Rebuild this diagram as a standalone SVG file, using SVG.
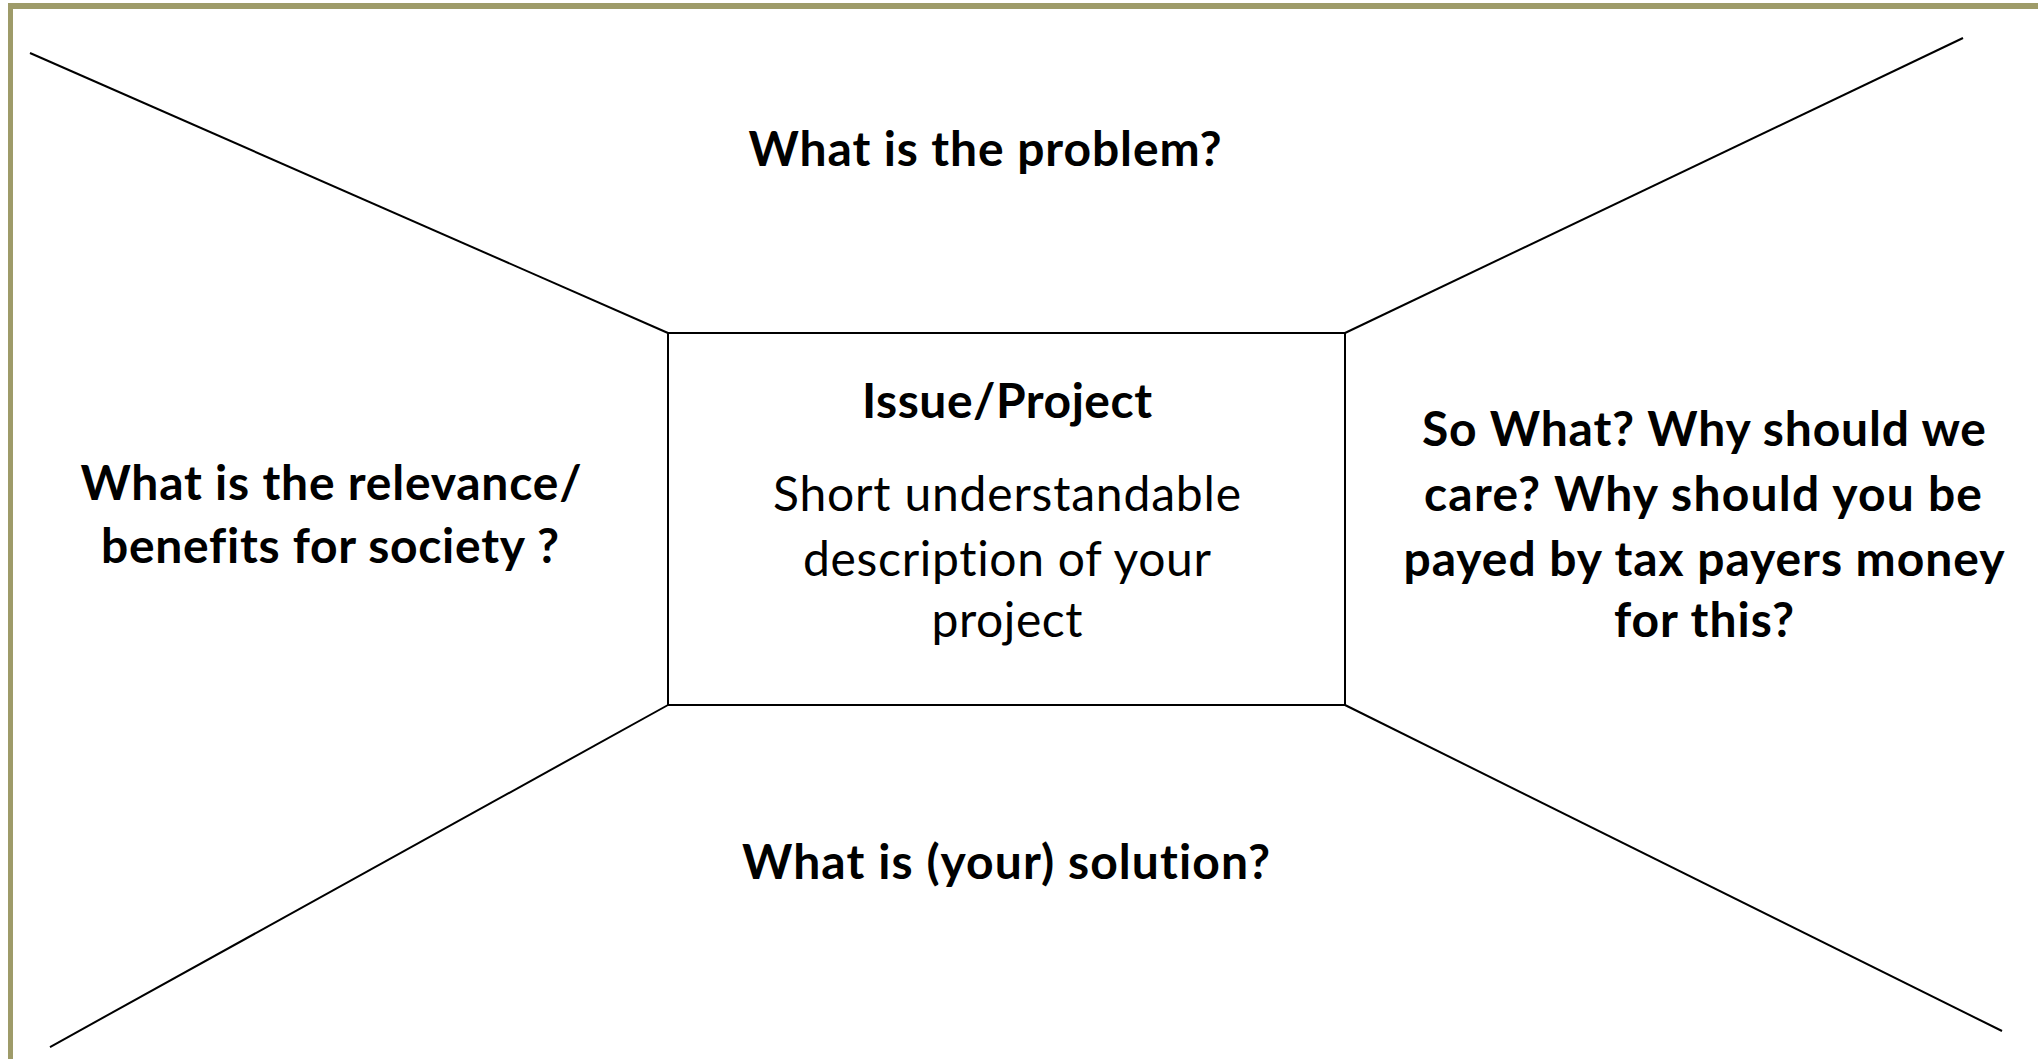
<svg xmlns="http://www.w3.org/2000/svg" width="2038" height="1059" viewBox="0 0 2038 1059">
<style>
.q{font-family:Lato,"Open Sans","Liberation Sans",sans-serif;font-weight:bold;font-size:48px;fill:#000;text-anchor:middle;font-variant-ligatures:none}
.d{font-family:Lato,"Open Sans","Liberation Sans",sans-serif;font-size:48px;fill:#000;text-anchor:middle;font-variant-ligatures:none}
.ln{stroke:#000;stroke-width:2;fill:none}
</style>
<rect width="2038" height="1059" fill="#fff"/>
<g id="frame" fill="#9E9B69">
<rect x="8" y="3" width="2030" height="6"/>
<rect x="8" y="3" width="5" height="1056"/>
</g>
<g id="connectors" class="ln">
<line x1="30" y1="53" x2="668" y2="333"/>
<line x1="1345" y1="333" x2="1963" y2="38"/>
<line x1="668" y1="705" x2="50" y2="1047"/>
<line x1="1345" y1="705" x2="2002" y2="1031"/>
</g>
<g id="center">
<rect x="668" y="333" width="677" height="372" class="ln"/>
<text class="q" x="1007" y="418" textLength="290">Issue/Project</text>
<text class="d" x="1007" y="511" textLength="468">Short understandable</text>
<text class="d" x="1007" y="576" textLength="408">description of your</text>
<text class="d" x="1007" y="637" textLength="151">project</text>
</g>
<g id="top">
<text class="q" x="985" y="166" textLength="473">What is the problem?</text>
</g>
<g id="bottom">
<text class="q" x="1006" y="879" textLength="528">What is (your) solution?</text>
</g>
<g id="left">
<text class="q" x="331" y="500" textLength="501">What is the relevance/</text>
<text class="q" x="330" y="563" textLength="458">benefits for society ?</text>
</g>
<g id="right">
<text class="q" x="1704" y="446" textLength="564">So What? Why should we</text>
<text class="q" x="1703" y="511" textLength="558">care? Why should you be</text>
<text class="q" x="1704" y="576" textLength="601">payed by tax payers money</text>
<text class="q" x="1704" y="637" textLength="180">for this?</text>
</g>
</svg>
